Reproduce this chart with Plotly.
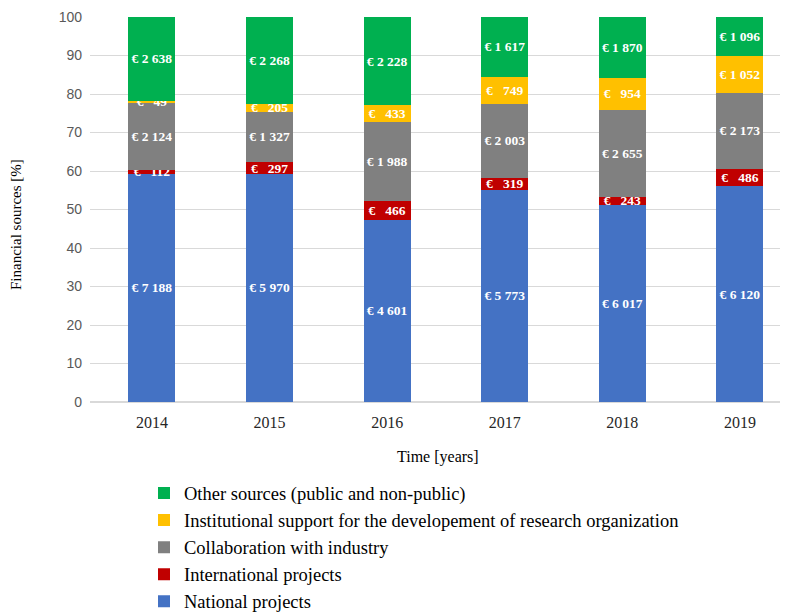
import plotly.graph_objects as go

years = ["2014", "2015", "2016", "2017", "2018", "2019"]
national = [7188, 5970, 4601, 5773, 6017, 6120]
international = [112, 297, 466, 319, 243, 486]
industry = [2124, 1327, 1988, 2003, 2655, 2173]
institutional = [49, 205, 433, 749, 954, 1052]
other = [2638, 2268, 2228, 1617, 1870, 1096]

series = [
    ("National projects", national, "#4472C4"),
    ("International projects", international, "#C00000"),
    ("Collaboration with industry", industry, "#808080"),
    ("Institutional support for the developement of research organization", institutional, "#FFC000"),
    ("Other sources (public and non-public)", other, "#00B050"),
]

totals = [sum(s[1][i] for s in series) for i in range(len(years))]


def fmt(v):
    s = f"{v:,}".replace(",", "\u00a0")
    if v < 1000:
        return "€\u00a0\u00a0\u00a0" + s
    return "€\u00a0" + s


SERIF = "Liberation Serif, Times New Roman, serif"
SANS = "Liberation Sans, Arial, sans-serif"

fig = go.Figure()
for name, vals, color in series:
    pct = [v / t * 100 for v, t in zip(vals, totals)]
    fig.add_trace(go.Bar(
        x=years, y=pct, name=name,
        marker=dict(color=color, line=dict(width=0)),
        text=[fmt(v) for v in vals],
        textposition="inside",
        insidetextanchor="middle",
        textangle=0,
        constraintext="none",
        textfont=dict(family=SERIF, size=13.5, color="white", weight="bold"),
        cliponaxis=False,
        hoverinfo="name+text",
    ))

L, R, T, B = 82, 11, 9, 220
plot_h = 614 - T - B

fig.update_layout(
    barmode="stack",
    bargap=0.6,
    width=788, height=614,
    margin=dict(l=L, r=R, t=T, b=B, autoexpand=False),
    plot_bgcolor="white", paper_bgcolor="white",
    font=dict(family=SERIF, size=14, color="#404040"),
    showlegend=True,
    legend=dict(
        traceorder="reversed",
        x=(136 - L) / (788 - L - R), xref="paper",
        y=1 - 466.5 / 614, yref="container", yanchor="top",
        font=dict(family=SERIF, size=18.5, color="#000000"),
        itemwidth=30, tracegroupgap=0,
        bgcolor="rgba(0,0,0,0)",
    ),
    xaxis=dict(
        range=[-0.527, 5.383],
        showgrid=False, showline=False, ticks="",
        ticklabelstandoff=9,
        tickfont=dict(family=SERIF, size=16, color="#262626"),
    ),
    yaxis=dict(
        range=[0, 100], dtick=10,
        showgrid=True, gridcolor="#D9D9D9", gridwidth=1,
        zeroline=True, zerolinecolor="#D9D9D9",
        ticks="", ticklabelstandoff=7,
        tickfont=dict(family=SANS, size=14, color="#595959"),
    ),
    annotations=[
        dict(text="Time [years]", xref="paper", yref="paper",
             x=0.5, y=-(449 - (T + plot_h)) / plot_h,
             xanchor="center", yanchor="middle", showarrow=False,
             font=dict(family=SERIF, size=16, color="#000000")),
        dict(text="Financial sources [%]", xref="paper", yref="paper",
             x=(8 - L) / (788 - L - R), y=((T + plot_h) - 217) / plot_h,
             xanchor="center", yanchor="middle", showarrow=False, textangle=-90,
             font=dict(family=SERIF, size=15, color="#000000")),
    ],
)

fig.write_html("out.html")
